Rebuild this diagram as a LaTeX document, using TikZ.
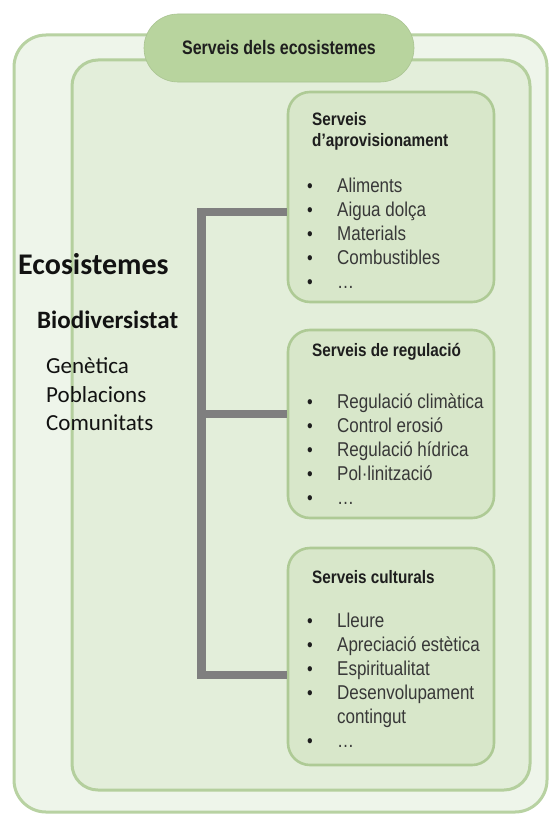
\documentclass[tikz,border=0pt]{standalone}
\usepackage{fontspec}
\setmainfont{Liberation Sans}
\newfontfamily\cond{Liberation Sans}[FakeStretch=0.85]
\newfontfamily\condx{Liberation Sans}[FakeStretch=0.82]
\newfontfamily\calib{Carlito}
\definecolor{outerfill}{HTML}{EEF5EA}
\definecolor{outerdraw}{HTML}{B8D2A2}
\definecolor{innerfill}{HTML}{E3EEDA}
\definecolor{innerdraw}{HTML}{B4CF9D}
\definecolor{boxfill}{HTML}{D8E7CA}
\definecolor{boxdraw}{HTML}{AECA95}
\definecolor{pillfill}{HTML}{B8D49E}
\definecolor{conncol}{HTML}{7F7F7F}
\definecolor{itemcol}{HTML}{383838}
\definecolor{ttlcol}{HTML}{1E1E1E}
\begin{document}
\begin{tikzpicture}[x=1pt,y=-1pt,
  frame/.style={line width=3pt, inner sep=0pt},
  card/.style={draw=boxdraw, fill=boxfill, line width=2.6pt, rounded corners=22pt,
     minimum width=206pt, inner sep=0pt},
  ttl/.style={anchor=base west, inner sep=0pt, text=ttlcol,
     font=\cond\bfseries\fontsize{18}{21}\selectfont},
  item/.style={anchor=base west, inner sep=0pt, text=itemcol,
     font=\cond\fontsize{20}{23}\selectfont},
  bul/.style={anchor=base, inner sep=0pt, text=ttlcol,
     font=\cond\fontsize{19}{22}\selectfont},
  conn/.style={draw=conncol, line width=8.5pt, line join=miter, line cap=butt},
  lefttxt/.style={anchor=base west, inner sep=0pt, text=black!93}
]
\useasboundingbox (0,0) rectangle (550,816);
\fill[white] (0,0) rectangle (550,816);

% frames
\node[frame, draw=outerdraw, fill=outerfill, rounded corners=32pt,
      minimum width=533pt, minimum height=777pt] (outer) at (280.5,423.5) {};
\node[frame, draw=innerdraw, fill=innerfill, rounded corners=26pt,
      minimum width=458pt, minimum height=730pt] (inner) at (301,425) {};
\node[fill=pillfill, draw=pillfill!92!black, line width=0.6pt, rounded corners=34pt,
      minimum width=270pt, minimum height=68pt, inner sep=0pt,
      font=\condx\bfseries\fontsize{19.5}{22}\selectfont, text=ttlcol] (pill) at (279,48)
      {Serveis dels ecosistemes};

% boxes
\node[card, minimum height=210pt] (box1) at (391,197) {};
\node[card, minimum height=188pt] (box2) at (391,424) {};
\node[card, minimum height=217pt] (box3) at (391,656.5) {};

% connectors
\coordinate (j1) at (201.5,212);
\coordinate (j2) at (201.5,414);
\coordinate (j3) at (201.5,675);
\draw[conn] (box1.west |- j1) -- (j1) -- (j3) -- (box3.west |- j3);
\draw[conn] (j2) -- (box2.west |- j2);

% box 1
\node[ttl] (t1a) at (312,125) {Serveis};
\node[ttl] (t1b) at (312,146) {d’aprovisionament};
\foreach \y/\t [count=\i] in {192/Aliments, 216/Aigua dolça, 240/Materials, 264/Combustibles, 288/\dots}{
  \node[bul] (b1\i) at (310,\y) {\textbullet};
  \node[item] (i1\i) at (337,\y) {\t};
}
% box 2
\node[ttl] (t2) at (312,356) {Serveis de regulació};
\foreach \y/\t [count=\i] in {408/Regulació climàtica, 432/Control erosió, 456/Regulació hídrica, 480/Pol·linització, 504/\dots}{
  \node[bul] (b2\i) at (310,\y) {\textbullet};
  \node[item] (i2\i) at (337,\y) {\t};
}
% box 3
\node[ttl] (t3) at (312,583) {Serveis culturals};
\foreach \y/\t [count=\i] in {627/Lleure, 651/Apreciació estètica, 675/Espiritualitat, 699/Desenvolupament, 747/\dots}{
  \node[bul] (b3\i) at (310,\y) {\textbullet};
  \node[item] (i3\i) at (337,\y) {\t};
}
\node[item] (i3x) at (337,723) {contingut};

% left texts
\node[lefttxt, font=\calib\bfseries\fontsize{30}{34}\selectfont] (eco) at (18,274) {Ecosistemes};
\node[lefttxt, font=\calib\bfseries\fontsize{25}{29}\selectfont] (bio) at (37,328) {Biodiversistat};
\node[lefttxt, font=\calib\fontsize{23}{27}\selectfont] (gen) at (46,373) {Genètica};
\node[lefttxt, font=\calib\fontsize{23}{27}\selectfont] (pob) at (46,402) {Poblacions};
\node[lefttxt, font=\calib\fontsize{23}{27}\selectfont] (com) at (46,430) {Comunitats};
\end{tikzpicture}
\end{document}
